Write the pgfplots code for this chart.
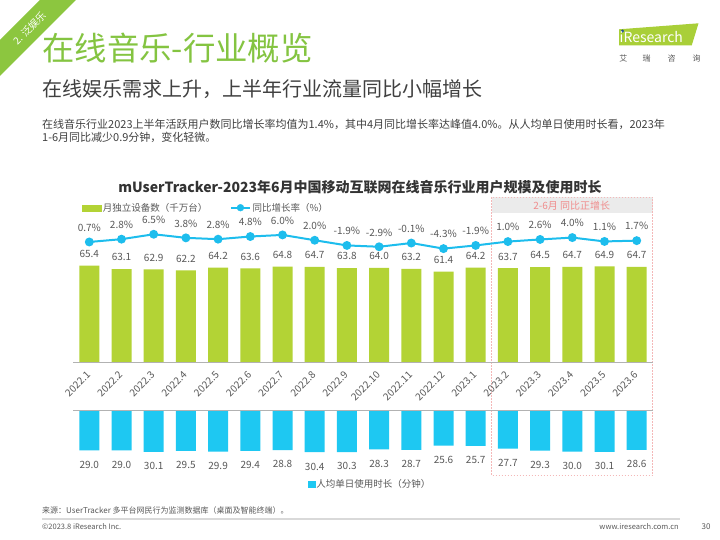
\documentclass[border=0pt]{standalone}
\usepackage{pgfplots}
\pgfplotsset{compat=1.18}
\usepackage{pgfplotstable}
\usepackage{fontspec}
\setmainfont{Noto Sans CJK SC}
\definecolor{barG}{HTML}{B3D335}
\definecolor{barB}{HTML}{1EC8F2}
\definecolor{lineB}{HTML}{1DBDED}
\definecolor{titleG}{HTML}{84C441}
\definecolor{bandG}{HTML}{8CC63F}
\definecolor{txt}{HTML}{595959}
\definecolor{dark}{HTML}{404040}
\definecolor{ttl}{HTML}{333333}
\definecolor{pinkT}{HTML}{F08C8C}
\definecolor{pinkD}{HTML}{F4B8B8}
\definecolor{bandGray}{HTML}{EBEBEB}
\definecolor{logoG}{HTML}{A9CF38}
\definecolor{logoBlue}{HTML}{1F4E9A}

\pgfplotstableread{
x users yoy time
0 65.4 0.7 29.0
1 63.1 2.8 29.0
2 62.9 6.5 30.1
3 62.2 3.8 29.5
4 64.2 2.8 29.9
5 63.6 4.8 29.4
6 64.8 6.0 28.8
7 64.7 2.0 30.4
8 63.8 -1.9 30.3
9 64.0 -2.9 28.3
10 63.2 -0.1 28.7
11 61.4 -4.3 25.6
12 64.2 -1.9 25.7
13 63.7 1.0 27.7
14 64.5 2.6 29.3
15 64.7 4.0 30.0
16 64.9 1.1 30.1
17 64.7 1.7 28.6
}\datatab

\begin{document}
\begin{tikzpicture}
\begin{scope}[x=1pt,y=-1pt]
\useasboundingbox (0,0) rectangle (720,540);
\fill[white] (0,0) rectangle (720,540);
% corner ribbon
\fill[bandG] (40,0) -- (76,0) -- (0,76) -- (0,40) -- cycle;
\node[rotate=45, text=white, font=\fontsize{10}{12}\selectfont, inner sep=0pt] at (29.5,28.5) {2. 泛娱乐};
% titles
\node[anchor=west, text=titleG, font=\fontsize{32.4}{38}\selectfont, inner sep=0pt] at (42,48) {在线音乐-行业概览};
\node[anchor=west, text=dark, font=\fontsize{20}{24}\selectfont, inner sep=0pt] at (42,89) {在线娱乐需求上升，上半年行业流量同比小幅增长};
\node[anchor=west, text=dark, font=\fontsize{11}{13}\selectfont, inner sep=0pt] at (42,124) {在线音乐行业2023上半年活跃用户数同比增长率均值为1.4\%，其中4月同比增长率达峰值4.0\%。从人均单日使用时长看，2023年};
\node[anchor=west, text=dark, font=\fontsize{11}{13}\selectfont, inner sep=0pt] at (42,137) {1-6月同比减少0.9分钟，变化轻微。};
% logo
\fill[logoG] (619,29.3) -- (698.5,23.3) -- (691.7,45.5) -- (619,45.5) -- cycle;
\fill[logoBlue] (622.5,31) circle (1.6);
\node[anchor=west, text=white, font=\fontsize{14}{16}\selectfont, inner sep=0pt] at (619.5,37) {iResearch};
\node[text=txt, font=\fontsize{8}{9}\selectfont, inner sep=0pt] at (623.3,58.3) {艾};
\node[text=txt, font=\fontsize{8}{9}\selectfont, inner sep=0pt] at (646.7,58.3) {瑞};
\node[text=txt, font=\fontsize{8}{9}\selectfont, inner sep=0pt] at (671.7,58.3) {咨};
\node[text=txt, font=\fontsize{8}{9}\selectfont, inner sep=0pt] at (696.7,58.3) {询};
% chart title
\node[text=ttl, font=\bfseries\fontsize{14}{16}\selectfont, inner sep=0pt] at (360,187) {mUserTracker-2023年6月中国移动互联网在线音乐行业用户规模及使用时长};
% highlight box
\fill[bandGray] (491.8,197.3) rectangle (652.8,213.5);
\draw[pinkD, line width=0.7pt, dash pattern=on 1.5pt off 1.5pt] (491.8,197.3) rectangle (652.8,475.5);
\node[text=pinkT, font=\fontsize{10}{12}\selectfont, inner sep=0pt] at (571.7,205.5) {2-6月 同比正增长};
% footer
\node[anchor=west, text=txt, font=\fontsize{8}{10}\selectfont, inner sep=0pt] at (42,510.7) {来源：UserTracker 多平台网民行为监测数据库（桌面及智能终端）。};
\draw[black!15, line width=1.6pt] (42,519) -- (680,519);
\node[anchor=west, text=txt, font=\fontsize{7.5}{9}\selectfont, inner sep=0pt] at (42,527) {©2023.8 iResearch Inc.};
\node[anchor=east, text=txt, font=\fontsize{7.5}{9}\selectfont, inner sep=0pt] at (679,527) {www.iresearch.com.cn};
\node[text=txt, font=\fontsize{8}{9}\selectfont, inner sep=0pt] at (706,527) {30};
\end{scope}

% green bars: monthly devices
\begin{axis}[
  at={(73.2pt,-362.7pt)}, anchor=south west,
  scale only axis, width=579.6pt, height=118.64pt,
  xmin=-0.5, xmax=17.5, ymin=0, ymax=80,
  axis line style={draw=none},
  ytick=\empty,
  xtick={0,...,17},
  xticklabels={2022.1,2022.2,2022.3,2022.4,2022.5,2022.6,2022.7,2022.8,2022.9,2022.10,2022.11,2022.12,2023.1,2023.2,2023.3,2023.4,2023.5,2023.6},
  major tick length=0pt,
  xticklabel shift=10pt,
  xticklabel style={rotate=45, anchor=east, font=\fontsize{10}{12}\selectfont, text=txt, inner sep=1pt},
  clip=false,
  legend columns=-1,
  legend style={draw=none, fill=none, at={(0.0147,1.3065)}, anchor=west, inner sep=0pt,
    font=\fontsize{9.5}{11}\selectfont, text=txt,
    nodes={inner sep=1.5pt},
    /tikz/every even column/.append style={column sep=21pt}},
]
\addplot[ybar, bar width=20pt, fill=barG, draw=none, forget plot,
  point meta=explicit symbolic, nodes near coords,
  every node near coord/.append style={anchor=base, yshift=8.2pt, inner sep=0pt, font=\fontsize{10}{12}\selectfont, text=txt}]
  table[x=x, y=users, meta=users] {\datatab};
\draw[black!30, line width=0.8pt] (axis cs:-0.5,0) -- (axis cs:17.5,0);
\addlegendimage{legend image code/.code={\fill[barG] (0pt,-3pt) rectangle (19pt,3pt);}}
\addlegendentry{月独立设备数（千万台）}
\addlegendimage{legend image code/.code={\draw[lineB, line width=2pt] (0pt,0pt) -- (19.3pt,0pt); \fill[lineB] (9.65pt,0pt) circle (3.4pt);}}
\addlegendentry{同比增长率（\%）}
\end{axis}

% line: year-on-year growth
\begin{axis}[
  at={(73.2pt,-256.2pt)}, anchor=south west,
  scale only axis, width=579.6pt, height=26.6pt,
  xmin=-0.5, xmax=17.5, ymin=-10, ymax=10,
  hide axis, clip=false,
  legend columns=-1,
  legend style={draw=none, fill=none, at={(0.4039,-8.575)}, anchor=west, inner sep=0pt,
    font=\fontsize{9.5}{11}\selectfont, text=txt, nodes={inner sep=1.5pt}},
]
\addplot[lineB, line width=2pt, mark=*, mark size=3.4pt, mark options={fill=lineB, draw=lineB}, forget plot,
  point meta=explicit symbolic, nodes near coords={\pgfplotspointmeta\%},
  every node near coord/.append style={anchor=base, yshift=10.7pt, inner sep=0pt, font=\fontsize{10}{12}\selectfont, text=txt}]
  table[x=x, y=yoy, meta=yoy] {\datatab};
\addlegendimage{legend image code/.code={\fill[barB] (0pt,-3pt) rectangle (7pt,3pt);}}
\addlegendentry{人均单日使用时长（分钟）}
\end{axis}

% blue bars: daily time per user
\begin{axis}[
  at={(73.2pt,-410.7pt)}, anchor=north west,
  scale only axis, width=579.6pt, height=54.64pt,
  xmin=-0.5, xmax=17.5, ymin=0, ymax=40, y dir=reverse,
  hide axis, clip=false,
]
\addplot[ybar, bar width=20pt, fill=barB, draw=none,
  point meta=explicit symbolic, nodes near coords,
  every node near coord/.append style={anchor=base, yshift=-17.8pt, inner sep=0pt, font=\fontsize{10}{12}\selectfont, text=txt}]
  table[x=x, y=time, meta=time] {\datatab};
\draw[black!30, line width=0.8pt] (axis cs:-0.5,0) -- (axis cs:17.5,0);
\end{axis}
\end{tikzpicture}
\end{document}
